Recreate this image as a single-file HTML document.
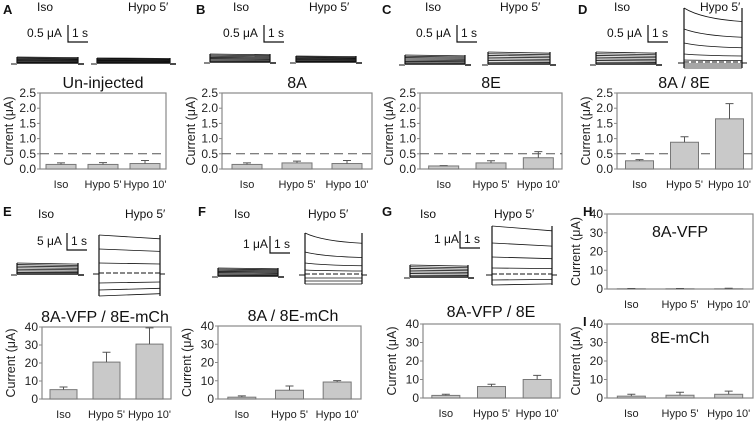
<!DOCTYPE html>
<html><head><meta charset="utf-8"><style>
body{margin:0;background:#fff}
svg{display:block;font-family:"Liberation Sans",sans-serif}
</style></head><body>
<svg id="fig" width="756" height="422" viewBox="0 0 756 422"></svg>
<script>
const categories=["Iso","Hypo 5'","Hypo 10'"];
const valsA=[0.15,0.15,0.18], errA=[0.05,0.06,0.1];
const valsB=[0.15,0.20,0.18], errB=[0.05,0.06,0.1];
const valsC=[0.10,0.20,0.37], errC=[0.01,0.07,0.2];
const valsD=[0.27,0.88,1.65], errD=[0.04,0.18,0.5];
const valsE=[5.2,20.5,30.5], errE=[1.5,5.5,9];
const valsF=[1.0,4.8,9.3], errF=[0.7,2.3,0.8];
const valsG=[1.4,6.2,10.0], errG=[0.6,1.2,2.2];
const valsH=[0.1,0.1,0.1], errH=[0.2,0.2,0.3];
const valsI=[1.0,1.5,2.0], errI=[1.0,1.6,1.7];
const ticksSmall=["0.0","0.5","1.0","1.5","2.0","2.5"];
const ticksLarge=["0","10","20","30","40"];
const NS="http://www.w3.org/2000/svg";
const svg=document.getElementById('fig');
function el(tag,attrs,parent,text){const e=document.createElementNS(NS,tag);for(const k in attrs)e.setAttribute(k,attrs[k]);if(text!==undefined)e.textContent=text;(parent||svg).appendChild(e);return e;}

function chart(key,x0,x1,y0,y1,vals,errs,ticks,ymax,title,titleX,titleY,dashed,bw){
  const g=el('g',{});
  
  
  const ys=v=>y1-(v/ymax)*(y1-y0);
  const xs=i=>x0+(x1-x0)*(2*i+1)/6;
  const box=el('rect',{x:x0,y:y0,width:x1-x0,height:y1-y0,fill:'none',stroke:'#888','stroke-width':1.2},g);
  
  
  ticks.forEach(t=>{const v=parseFloat(t);const y=ys(v);
    el('line',{x1:x0-3,x2:x0,y1:y,y2:y,stroke:'#888'},g);
    const tl=el('text',{x:x0-4,y:y+4,'font-size':12,'text-anchor':'end',fill:'#222'},g,t);
    
    
  });
  const yt=el('text',{x:0,y:0,'font-size':12.5,'text-anchor':'middle',fill:'#222',transform:`translate(${x0-27},${(y0+y1)/2}) rotate(-90)`},g,'Current (μA)');
  
  
  if(dashed){const dl=el('line',{x1:x0,x2:x1,y1:ys(0.5),y2:ys(0.5),stroke:'#555','stroke-dasharray':'9,5','stroke-width':1},g);
    
    }
  vals.forEach((v,i)=>{const cx=xs(i);
    const b=el('rect',{x:cx-bw/2,y:ys(v),width:bw,height:y1-ys(v),fill:'#c9c9c9',stroke:'#777','stroke-width':1},g);
    
    
    const top=ys(v+errs[i]);
    const e=el('path',{d:`M${cx},${ys(v)}V${top}M${cx-4},${top}H${cx+4}`,stroke:'#555',fill:'none'},g);
    
    
    const cl=el('text',{x:cx,y:y1+19,'font-size':11,'text-anchor':'middle',fill:'#222'},g,categories[i]);
    
    
  });
  const tt=el('text',{x:titleX,y:titleY,'font-size':16,'text-anchor':'middle',fill:'#111'},g,title);
  
  
}
chart('A',40,166,93,169,valsA,errA,ticksSmall,2.5,'Un-injected',103,88,true,30);
chart('B',222,372,93,169,valsB,errB,ticksSmall,2.5,'8A',297,88,true,30);
chart('C',420,562,93,169,valsC,errC,ticksSmall,2.5,'8E',491,88,true,30);
chart('D',617,752,93,169,valsD,errD,ticksSmall,2.5,'8A / 8E',684,88,true,28);
chart('E',42,171,327,399,valsE,errE,ticksLarge,40,'8A-VFP / 8E-mCh',105,322,false,27);
chart('F',218,361,326,399,valsF,errF,ticksLarge,40,'8A / 8E-mCh',293,321,false,28);
chart('G',423,560,324,398,valsG,errG,ticksLarge,40,'8A-VFP / 8E',491,317,false,28);
chart('H',607,753,214,289,valsH,errH,ticksLarge,40,'8A-VFP',680,237,false,28);
chart('I',607,753,324,398,valsI,errI,ticksLarge,40,'8E-mCh',680,343,false,28);

function label(t,x,y,size,bold,name){const e=el('text',{x:x,y:y,'font-size':size,'font-weight':bold?'bold':'normal',fill:'#111'},svg,t);
  
  }
[['A',3,14],['B',196,14],['C',382,14],['D',578,14],['E',3,216],['F',198,216],['G',382,216],['H',583,216],['I',583,326]].forEach(p=>label(p[0],p[1],p[2],13,true,'panel-letter-'+p[0].toLowerCase()));
[[37,128,11],[233,309,11],[425,500,11],[614,700,11],[38,125,218],[234,308,218],[420,494,218]].forEach(p=>{
  label('Iso',p[0],p[2],12,false,'condition-label-iso');
  label('Hypo 5′',p[1],p[2],12,false,'condition-label-hypo');
});
function scale(txt,tx,bx,y,h){label(txt,tx,y,12,false,'scale-bar-label');
  const s=el('path',{d:`M${bx},${y-h+4}V${y+5}H${bx+20}`,stroke:'#111',fill:'none','stroke-width':1.2});
  
  
  label('1 s',bx+4,y,12,false,'scale-bar-time');}
scale('0.5 μA',27,68,37,16);scale('0.5 μA',223,264,37,16);scale('0.5 μA',416,457,37,16);scale('0.5 μA',607,648,37,16);
scale('5 μA',37,67,245,16);scale('1 μA',243,270,248,16);scale('1 μA',434,460,243,16);

function trace(x0,x1,base,tops,name,curve,dash){const g=el('g',{});
  
  
  const lo=Math.min(...tops), hi=Math.max(base,...tops);
  el('path',{d:`M${x0-6},${base+1}H${x0}`,stroke:'#111',fill:'none'},g);
  el('path',{d:`M${x0},${lo}V${hi}M${x1},${lo}V${hi}`,stroke:'#111',fill:'none','stroke-width':1.2},g);
  tops.forEach(t=>{const end=curve&&t<base?t+(base-t)*0.25:t;el('path',{d:curve?`M${x0},${t}Q${x0+(x1-x0)*0.3},${t+(end-t)*0.8} ${x1},${end}`:`M${x0},${t}L${x1},${t+(base-t)*0.1}`,stroke:'#111',fill:'none','stroke-width':0.8},g);});
  el('path',{d:`M${x0},${base}H${x1}M${x1},${base+1}H${x1+6}`,stroke:'#111',fill:'none','stroke-width':dash?1:1.5,'stroke-dasharray':dash?'5,2':'none'},g);
}
function dense(a,b,n){const r=[];for(let i=0;i<n;i++)r.push(a+(b-a)*i/(n-1));return r;}
trace(17,78,63,dense(57,63,8),'trace-a-iso');trace(97,170,63,dense(58,63,8),'trace-a-hypo');
trace(210,270,62,dense(54,62,8),'trace-b-iso');trace(296,356,62,dense(56,62,8),'trace-b-hypo');
trace(405,465,64,dense(55,64,8),'trace-c-iso');trace(488,550,64,dense(52,64,8),'trace-c-hypo');
trace(596,656,64,dense(52,64,8),'trace-d-iso');trace(684,742,62,[8,29,43,54,60,64,66,68],'trace-d-hypo',true,true);
trace(17,78,274,dense(263,274,8),'trace-e-iso');trace(99,160,273,[235,249,263,283,290,296],'trace-e-hypo',false,true);
trace(218,278,276,dense(268,276,8),'trace-f-iso');trace(305,362,274,[233,252,263,270,278,281,284],'trace-f-hypo',true,true);
trace(410,468,277,dense(265,277,8),'trace-g-iso');trace(492,552,274,[226,243,257,268,280,285],'trace-g-hypo',false,true);
</script>
</body></html>
